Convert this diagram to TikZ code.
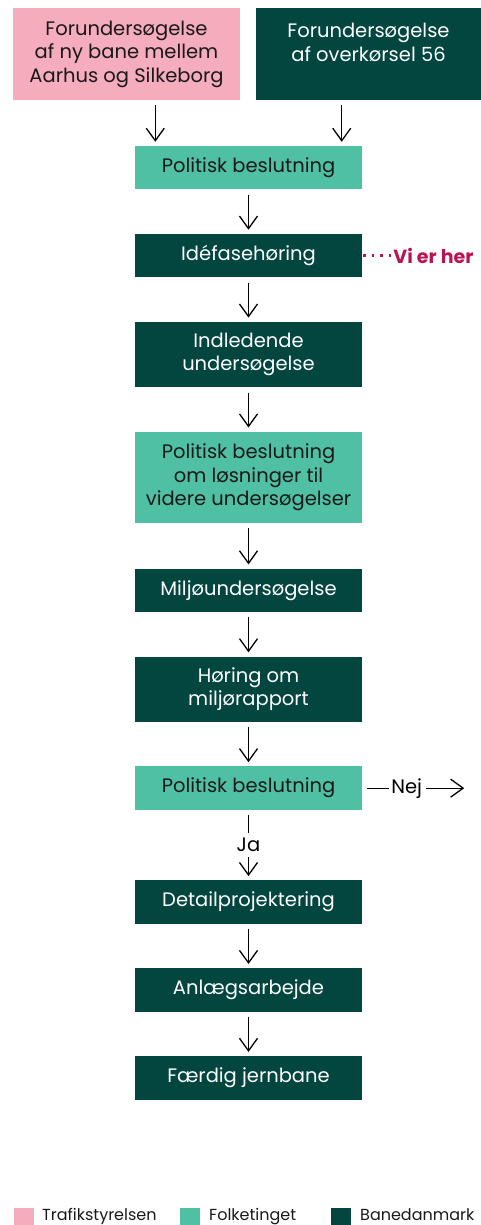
\documentclass[tikz,border=0pt]{standalone}
\usepackage{fontspec}
\setmainfont{Poppins}
\usetikzlibrary{arrows.meta, calc, positioning}
\definecolor{trafikpink}{RGB}{245,172,188}
\definecolor{folketeal}{RGB}{80,192,165}
\definecolor{banegreen}{RGB}{2,70,63}
\definecolor{herred}{RGB}{186,18,84}

\begin{document}
\begin{tikzpicture}[x=1pt, y=-1pt, >={Straight Barb[length=12.5pt,width=18pt]},
    box/.style={rectangle, inner sep=0pt, minimum width=227pt, minimum height=43.5pt, align=center, font=\fontsize{19.5}{23.5}\selectfont},
    tsbox/.style={box, fill=trafikpink, text=black!90},
    ftbox/.style={box, fill=folketeal, text=black!90},
    bdbox/.style={box, fill=banegreen, text=white},
    flow/.style={->, line width=1.3pt, shorten <=5pt, shorten >=4pt},
    legsq/.style={rectangle, inner sep=0pt, minimum width=20pt, minimum height=17pt},
    legtxt/.style={font=\fontsize{16}{19}\selectfont, text=black!90, inner sep=0pt, anchor=base west}]

    \useasboundingbox (0,0) rectangle (481,1225);

    % start
    \node[tsbox, minimum height=92pt] (trafik) at (126.5,54) {Forundersøgelse\\af ny bane mellem\\Aarhus og Silkeborg};
    \node[bdbox, minimum width=225pt, minimum height=92pt] (overk) at (368.5,54) {Forundersøgelse\\af overkørsel 56\\\mbox{}};
    \node[ftbox] (polA) at (248.5,167.75) {Politisk beslutning};
    \coordinate (inA) at ($(polA.north west)!0.09!(polA.north east)$);
    \coordinate (inB) at ($(polA.north west)!0.91!(polA.north east)$);
    \draw[flow] (trafik.south -| inA) -- (inA);
    \draw[flow] (overk.south -| inB) -- (inB);

    % chain
    \node[bdbox, below=44pt of polA] (ide) {Idéfasehøring};
    \node[bdbox, minimum height=65.5pt, below=44pt of ide] (indl) {Indledende\\undersøgelse};
    \node[ftbox, minimum height=91.5pt, below=44pt of indl] (polB) {Politisk beslutning\\om løsninger til\\videre undersøgelser};
    \node[bdbox, below=45pt of polB] (milj) {Miljøundersøgelse};
    \node[bdbox, minimum height=65.5pt, below=44pt of milj] (hoer) {Høring om\\miljørapport};
    \node[ftbox, below=44pt of hoer] (polC) {Politisk beslutning};
    \node[bdbox, below=70pt of polC] (detail) {Detailprojektering};
    \node[bdbox, below=44pt of detail] (anlaeg) {Anlægsarbejde};
    \node[bdbox, below=44pt of anlaeg] (faerdig) {Færdig jernbane};

    \draw[flow] (polA) -- (ide);
    \draw[flow] (ide) -- (indl);
    \draw[flow] (indl) -- (polB);
    \draw[flow] (polB) -- (milj);
    \draw[flow] (milj) -- (hoer);
    \draw[flow] (hoer) -- (polC);
    \draw[flow] (detail) -- (anlaeg);
    \draw[flow] (anlaeg) -- (faerdig);

    % vi er her
    \node[anchor=west, inner sep=0pt, text=herred, font=\fontsize{19}{23}\selectfont\bfseries] (vi) at ($(ide.east)+(31,0)$) {Vi er her};
    \draw[herred, line width=2.4pt, dash pattern=on 2.4pt off 6.2pt, shorten <=1pt] (ide.east) -- (vi.west);

    % ja / nej
    \node[inner sep=0pt, font=\fontsize{19.5}{23.5}\selectfont] (ja) at ($(polC.south)!0.5!(detail.north)$) {Ja};
    \draw[line width=1.3pt, shorten <=5pt, shorten >=5pt] (polC) -- (ja);
    \draw[flow, shorten <=5pt] (ja) -- (detail);
    \node[inner sep=0pt, font=\fontsize{19.5}{23.5}\selectfont, right=29pt of polC] (nej) {Nej};
    \coordinate (nejend) at ($(nej.east)+(42,0)$);
    \draw[line width=1.3pt, shorten <=5pt, shorten >=2pt] (polC.east) -- (nej.west);
    \draw[flow, shorten <=4pt, shorten >=0pt] (nej.east) -- (nejend);

    % legend
    \node[legsq, fill=trafikpink] (lgts) at (24,1216.5) {};
    \node[legtxt] (lgtstxt) at (42,1220) {Trafikstyrelsen};
    \node[legsq, fill=folketeal] (lgft) at (190,1216.5) {};
    \node[legtxt] (lgfttxt) at (209,1220) {Folketinget};
    \node[legsq, fill=banegreen] (lgbd) at (341,1216.5) {};
    \node[legtxt] (lgbdtxt) at (360,1220) {Banedanmark};
\end{tikzpicture}
\end{document}
